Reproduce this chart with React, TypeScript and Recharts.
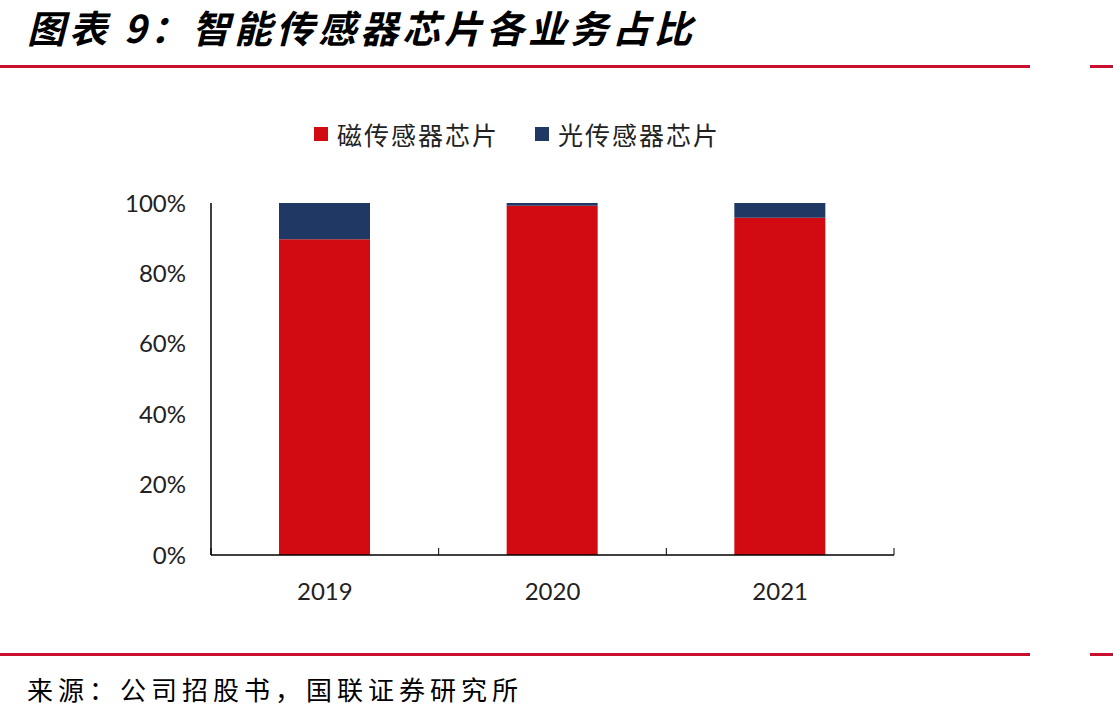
import React from 'react';
import { BarChart, Bar, XAxis, YAxis } from 'recharts';

const years = ['2019', '2020', '2021'];
const magnetic = [0.897, 0.992, 0.958];
const optical = [0.103, 0.008, 0.042];
const yTicks = [0, 0.2, 0.4, 0.6, 0.8, 1];

const seriesNames = ['磁传感器芯片', '光传感器芯片'];
const RED = '#D20A11';
const NAVY = '#1F3864';

const data = years.map((y, i) => ({ year: y, magnetic: magnetic[i], optical: optical[i] }));

const W = 1113;
const H = 720;
const plotLeft = 211;
const plotRight = 894;
const plotTop = 203;
const plotBottom = 555;
const band = (plotRight - plotLeft) / years.length;
const numFont = "Lato, 'Open Sans', sans-serif";

const XTick = (props: any) => {
  const { x, payload, index } = props;
  const axisY = plotBottom;
  return (
    <g>
      {index === 0 && <line x1={x - band / 2} y1={axisY} x2={x - band / 2} y2={axisY - 7} stroke="#000" />}
      <line x1={x + band / 2} y1={axisY} x2={x + band / 2} y2={axisY - 7} stroke="#000" />
      <text x={x} y={plotBottom + 45} textAnchor="middle" fontSize={24} fill="#222" fontFamily={numFont}>
        {payload.value}
      </text>
    </g>
  );
};

export default function App() {
  return (
    <div style={{ position: 'absolute', left: 0, top: 0, width: W, height: H, background: '#fff', overflow: 'hidden' }}>
      <div
        style={{
          position: 'absolute',
          left: 27,
          top: 4,
          fontFamily: "'Noto Sans CJK SC', sans-serif",
          fontWeight: 700,
          fontStyle: 'italic',
          fontSize: 38,
          lineHeight: '46px',
          paddingRight: 10,
          color: '#000',
          letterSpacing: 4,
          whiteSpace: 'nowrap',
        }}
      >
        图表 9：智能传感器芯片各业务占比
      </div>
      <div style={{ position: 'absolute', left: 0, top: 65, width: 1030, height: 3, background: '#C8102E' }} />
      <div style={{ position: 'absolute', left: 1090, top: 65, width: 23, height: 3, background: '#C8102E' }} />

      <div
        style={{
          position: 'absolute',
          left: 314,
          top: 116,
          display: 'flex',
          gap: 36,
          fontFamily: "'Noto Sans CJK SC', sans-serif",
          fontSize: 25,
          letterSpacing: 2,
          color: '#222',
          whiteSpace: 'nowrap',
        }}
      >
        {seriesNames.map((n, i) => (
          <div key={n} style={{ display: 'flex', alignItems: 'center' }}>
            <span style={{ width: 14, height: 14, background: i === 0 ? RED : NAVY, marginRight: 9, display: 'inline-block' }} />
            <span>{n}</span>
          </div>
        ))}
      </div>

      <div style={{ position: 'absolute', left: 0, top: 0 }}>
        <BarChart
          width={W}
          height={H}
          data={data}
          margin={{ top: plotTop, right: W - plotRight, left: plotLeft - 70, bottom: H - plotBottom - 40 }}
          barSize={91}
        >
          <XAxis
            dataKey="year"
            axisLine={{ stroke: '#000', strokeWidth: 1.5 }}
            tickLine={false}
            height={40}
            tick={<XTick />}
            interval={0}
          />
          <YAxis
            width={70}
            domain={[0, 1]}
            ticks={yTicks}
            tickFormatter={(v: number) => `${Math.round(v * 100)}%`}
            axisLine={{ stroke: '#000', strokeWidth: 1.5 }}
            tickLine={false}
            tick={{ fontSize: 24, fill: '#222', fontFamily: numFont }}
            tickMargin={19}
          />
          <Bar dataKey="magnetic" name={seriesNames[0]} stackId="a" fill={RED} isAnimationActive={false} />
          <Bar dataKey="optical" name={seriesNames[1]} stackId="a" fill={NAVY} isAnimationActive={false} />
        </BarChart>
      </div>

      <div style={{ position: 'absolute', left: 0, top: 653, width: 1030, height: 3, background: '#C8102E' }} />
      <div style={{ position: 'absolute', left: 1090, top: 653, width: 23, height: 3, background: '#C8102E' }} />
      <div
        style={{
          position: 'absolute',
          left: 27,
          top: 670,
          fontFamily: "'Noto Sans CJK SC', serif",
          fontSize: 26,
          letterSpacing: 5,
          color: '#000',
          whiteSpace: 'nowrap',
        }}
      >
        来源：公司招股书，国联证券研究所
      </div>
    </div>
  );
}
